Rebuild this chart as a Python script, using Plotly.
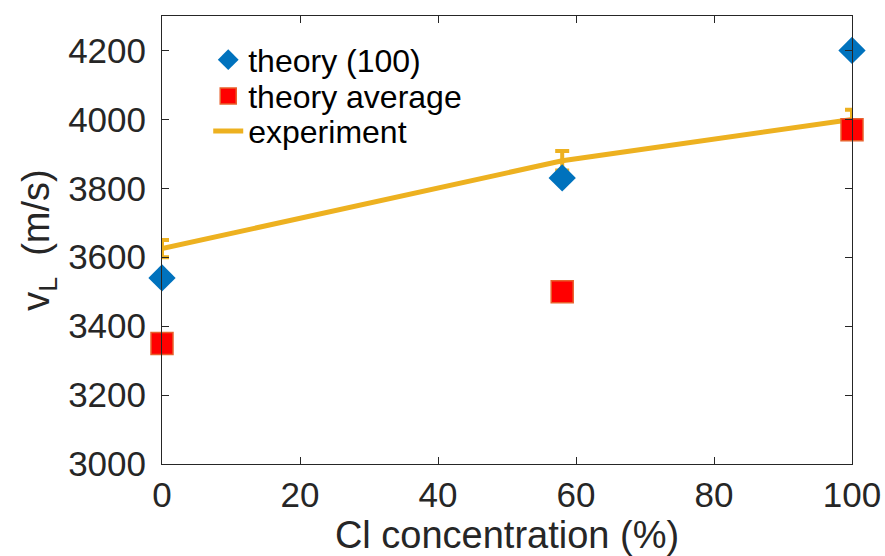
import plotly.graph_objects as go

x_vals = [0, 58, 100]
theory_100 = [3540, 3830, 4200]
theory_avg = [3350, 3500, 3970]
experiment = [3625, 3880, 4000]
experiment_err = [25, 28, 28]

x_ticks = [0, 20, 40, 60, 80, 100]
y_ticks = [3000, 3200, 3400, 3600, 3800, 4000, 4200]

FONT = "Liberation Sans, Arial, Helvetica, sans-serif"
AX = "#262626"

fig = go.Figure()

fig.add_trace(go.Scatter(
    x=x_vals, y=experiment, mode="lines", name="experiment",
    line=dict(color="#EDB120", width=5),
    error_y=dict(type="data", array=experiment_err, color="#EDB120",
                 thickness=4, width=7),
    cliponaxis=True, showlegend=False,
))
fig.add_trace(go.Scatter(
    x=x_vals, y=theory_100, mode="markers", name="theory (100)",
    marker=dict(symbol="diamond", size=21, color="#0072BD",
                line=dict(width=0)),
    cliponaxis=False, legend="legend",
))
fig.add_trace(go.Scatter(
    x=x_vals, y=theory_avg, mode="markers", name="theory average",
    marker=dict(symbol="square", size=22, color="#FF0000",
                line=dict(width=1.5, color="#E8602C")),
    cliponaxis=False, legend="legend2",
))
fig.add_trace(go.Scatter(
    x=[None], y=[None], mode="lines", name="experiment",
    line=dict(color="#EDB120", width=5), legend="legend3",
))

axis_common = dict(
    showline=True, linecolor=AX, linewidth=1, mirror="allticks",
    ticks="inside", ticklen=7, tickcolor=AX, tickwidth=1,
    showgrid=False, zeroline=False, automargin=False,
    tickfont=dict(family=FONT, size=35, color=AX),
)

leg_common = dict(x=0.067, xanchor="left", yanchor="middle",
                  bgcolor="rgba(0,0,0,0)", borderwidth=0,
                  font=dict(family=FONT, size=32, color="#000000"),
                  itemsizing="trace")

fig.update_layout(
    width=885, height=556,
    margin=dict(l=161.5, r=33, t=15.5, b=92),
    paper_bgcolor="white", plot_bgcolor="white",
    font=dict(family=FONT, color=AX),
    xaxis=dict(range=[0, 100], tickvals=x_ticks, ticklabelstandoff=0,
               title=dict(text="Cl concentration (%)",
                          font=dict(family=FONT, size=38, color=AX),
                          standoff=2),
               **axis_common),
    yaxis=dict(range=[3000, 4300], tickvals=y_ticks, ticklabelstandoff=8,
               title=dict(text="v<sub>L</sub>  (m/s)",
                          font=dict(family=FONT, size=38, color=AX),
                          standoff=6),
               **axis_common),
    legend=dict(y=0.902, **leg_common),
    legend2=dict(y=0.821, **leg_common),
    legend3=dict(y=0.743, **leg_common),
)

fig.write_html("out.html")
